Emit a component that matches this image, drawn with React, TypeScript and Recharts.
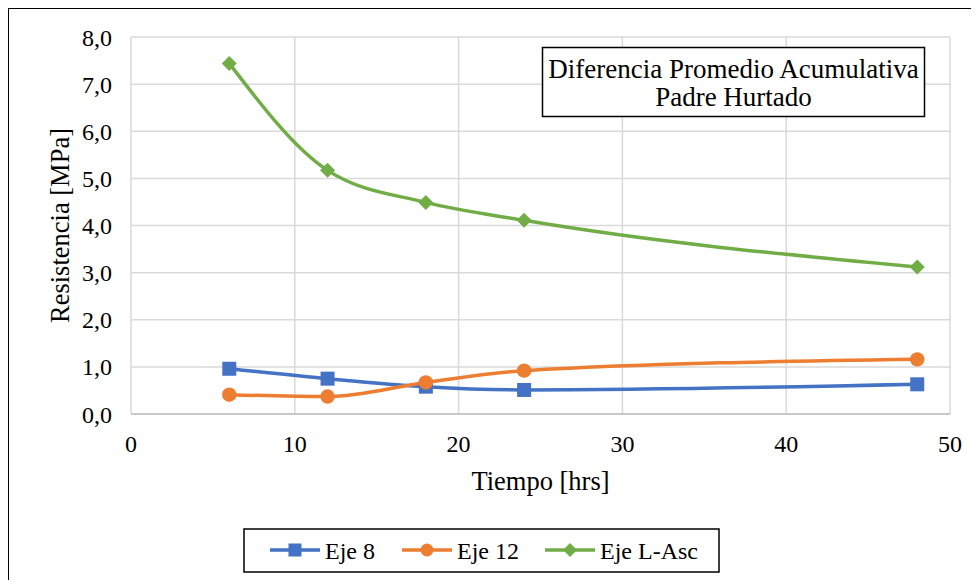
import React from 'react';
import {
  LineChart,
  Line,
  XAxis,
  YAxis,
  CartesianGrid,
  Legend,
  Customized,
} from 'recharts';

// Tiempo [hrs]
const hours = [6, 12, 18, 24, 48];

// Resistencia [MPa] per series
const eje8 = [0.96, 0.75, 0.58, 0.51, 0.63];
const eje12 = [0.41, 0.37, 0.67, 0.92, 1.16];
const ejeLAsc = [7.44, 5.17, 4.49, 4.11, 3.12];

const xTicks = [0, 10, 20, 30, 40, 50];
const yTicks = [0, 1, 2, 3, 4, 5, 6, 7, 8];

const titleLines = ['Diferencia Promedio Acumulativa', 'Padre Hurtado'];

const BLUE = '#4472C4';
const ORANGE = '#ED7D31';
const GREEN = '#70AD47';
const FONT = '"Liberation Serif", "Times New Roman", serif';

const data = hours.map((t, i) => ({
  t,
  eje8: eje8[i],
  eje12: eje12[i],
  ejeLAsc: ejeLAsc[i],
}));

const fmt = (v: number) => v.toFixed(1).replace('.', ',');

const SquareDot = (props: any) => {
  const { cx, cy } = props;
  if (cx == null || cy == null) return null;
  return <rect x={cx - 7} y={cy - 7} width={14} height={14} fill={BLUE} />;
};

const CircleDot = (props: any) => {
  const { cx, cy } = props;
  if (cx == null || cy == null) return null;
  return <circle cx={cx} cy={cy} r={7.2} fill={ORANGE} />;
};

const DiamondDot = (props: any) => {
  const { cx, cy } = props;
  if (cx == null || cy == null) return null;
  return (
    <polygon
      points={`${cx},${cy - 7.5} ${cx + 7.5},${cy} ${cx},${cy + 7.5} ${cx - 7.5},${cy}`}
      fill={GREEN}
    />
  );
};

// boxed chart title, top right of the plot
const TitleBox = () => (
  <g>
    <rect x={534.5} y={39.5} width={382} height={69} fill="#fff" stroke="#000" strokeWidth={1.5} />
    {titleLines.map((line, i) => (
      <text
        key={line}
        x={725.5}
        y={70 + i * 28}
        textAnchor="middle"
        style={{ fontSize: 27, fontFamily: FONT }}
        fill="#000"
      >
        {line}
      </text>
    ))}
  </g>
);

const legendItems = [
  { name: 'Eje 8', color: BLUE, x: 27, shape: 'square' },
  { name: 'Eje 12', color: ORANGE, x: 159, shape: 'circle' },
  { name: 'Eje L-Asc', color: GREEN, x: 302, shape: 'diamond' },
];

const renderLegend = () => (
  <svg width={477} height={45} style={{ display: 'block' }}>
    <rect x={1} y={1} width={475} height={43} fill="#fff" stroke="#000" strokeWidth={1.5} />
    {legendItems.map((it) => {
      const cy = 22;
      const mx = it.x + 25;
      return (
        <g key={it.name}>
          <line x1={it.x} y1={cy} x2={it.x + 50} y2={cy} stroke={it.color} strokeWidth={3.5} />
          {it.shape === 'square' && <rect x={mx - 6.5} y={cy - 6.5} width={13} height={13} fill={it.color} />}
          {it.shape === 'circle' && <circle cx={mx} cy={cy} r={6.5} fill={it.color} />}
          {it.shape === 'diamond' && (
            <polygon
              points={`${mx},${cy - 7} ${mx + 7},${cy} ${mx},${cy + 7} ${mx - 7},${cy}`}
              fill={it.color}
            />
          )}
          <text x={it.x + 55} y={31} style={{ fontSize: 24, fontFamily: FONT }} fill="#000">
            {it.name}
          </text>
        </g>
      );
    })}
  </svg>
);

export default function App() {
  return (
    <div
      style={{
        position: 'relative',
        width: 971,
        height: 580,
        overflow: 'hidden',
        marginBottom: -8,
        fontFamily: FONT,
        background: '#fff',
      }}
    >
      <LineChart
        width={971}
        height={580}
        data={data}
        margin={{ top: 29, right: 29, left: 0, bottom: 94 }}
      >
        <CartesianGrid stroke="#d9d9d9" strokeWidth={1.5} />
        <XAxis
          type="number"
          dataKey="t"
          domain={[0, 50]}
          ticks={xTicks}
          height={80}
          tickLine={false}
          axisLine={{ stroke: '#bfbfbf', strokeWidth: 1.5 }}
          tickMargin={15}
          tick={{ fontSize: 24, fill: '#000', fontFamily: FONT }}
          label={{
            value: 'Tiempo [hrs]',
            position: 'insideBottom',
            offset: 4,
            style: { fontSize: 26.5, fill: '#000', fontFamily: FONT },
          }}
        />
        <YAxis
          type="number"
          domain={[0, 8]}
          ticks={yTicks}
          width={123}
          tickLine={false}
          axisLine={false}
          tickMargin={13}
          tickFormatter={fmt}
          tick={{ fontSize: 24, fill: '#000', fontFamily: FONT }}
          label={{
            value: 'Resistencia [MPa]',
            angle: -90,
            position: 'insideLeft',
            offset: 52,
            style: { fontSize: 26.5, fill: '#000', fontFamily: FONT, textAnchor: 'middle' },
          }}
        />
        <Legend
          verticalAlign="middle"
          align="center"
          layout="horizontal"
          content={renderLegend}
          wrapperStyle={{ left: 235, top: 520, width: 477, height: 45 }}
        />
        <Line
          type="monotone"
          dataKey="eje8"
          name="Eje 8"
          stroke={BLUE}
          strokeWidth={3.5}
          dot={<SquareDot />}
          activeDot={false}
          isAnimationActive={false}
        />
        <Line
          type="monotone"
          dataKey="eje12"
          name="Eje 12"
          stroke={ORANGE}
          strokeWidth={3.5}
          dot={<CircleDot />}
          activeDot={false}
          isAnimationActive={false}
        />
        <Line
          type="monotone"
          dataKey="ejeLAsc"
          name="Eje L-Asc"
          stroke={GREEN}
          strokeWidth={3.5}
          dot={<DiamondDot />}
          activeDot={false}
          isAnimationActive={false}
        />
        <Customized component={TitleBox} />
      </LineChart>
      <div
        style={{
          position: 'absolute',
          left: 0,
          top: 0,
          width: 2000,
          height: 2000,
          border: '1.5px solid #000',
          pointerEvents: 'none',
        }}
      />
    </div>
  );
}
